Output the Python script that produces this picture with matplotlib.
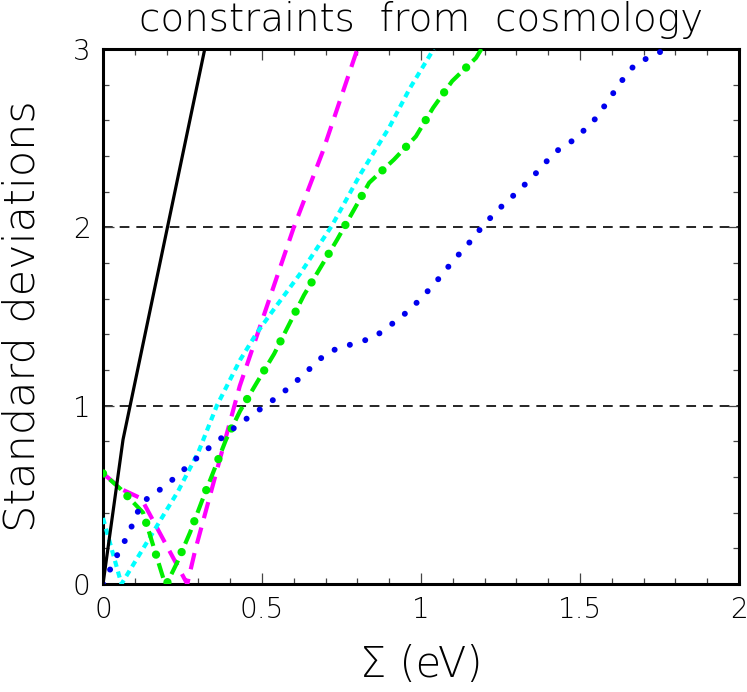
import matplotlib
matplotlib.use("Agg")
import matplotlib.pyplot as plt
from matplotlib.ticker import MultipleLocator

plt.rcParams['font.family'] = ['DejaVu Sans']
plt.rcParams['lines.scale_dashes'] = False

# ---- data ----
black_x = [0.0, 0.063, 0.32]
black_y = [0.0, 0.81, 3.0]

magenta_x = [0.0, 0.06, 0.12, 0.265, 0.29, 0.43, 0.60, 0.69, 0.80]
magenta_y = [0.62, 0.53, 0.48, 0.0, 0.19, 1.11, 2.0, 2.42, 3.0]

cyan_x = [0.0, 0.058, 0.13, 0.236, 0.30, 0.358, 0.431, 0.483, 0.536, 0.62,
          0.72, 0.81, 0.90, 0.965, 1.04]
cyan_y = [0.37, 0.0, 0.21, 0.52, 0.74, 1.0, 1.256, 1.406, 1.537, 1.74,
          2.01, 2.30, 2.56, 2.78, 3.0]

green_x = [0.0, 0.057, 0.126, 0.19, 0.20, 0.233, 0.274, 0.31, 0.387, 0.431,
           0.484, 0.538, 0.632, 0.736, 0.837, 0.915, 0.984, 1.038, 1.098, 1.173, 1.19]
green_y = [0.62, 0.53, 0.40, 0.03, 0.0, 0.12, 0.29, 0.46, 0.81, 0.97,
           1.13, 1.29, 1.62, 1.93, 2.25, 2.38, 2.51, 2.67, 2.82, 2.95, 3.0]

blue_x = [0.0, 0.044, 0.08, 0.12, 0.16, 0.19, 0.31, 0.43, 0.494, 0.557, 0.616,
          0.673, 0.70, 0.736, 0.774, 0.81, 0.85, 0.88, 0.94, 1.0, 1.05, 1.10,
          1.15, 1.20, 1.255, 1.31, 1.365, 1.42, 1.48, 1.54, 1.585, 1.626, 1.676,
          1.74, 1.767]
blue_y = [0.0, 0.16, 0.28, 0.45, 0.51, 0.54, 0.73, 0.90, 0.98, 1.06, 1.15,
          1.245, 1.29, 1.32, 1.34, 1.36, 1.38, 1.42, 1.50, 1.60, 1.70, 1.81,
          1.91, 2.02, 2.12, 2.21, 2.31, 2.42, 2.49, 2.59, 2.70, 2.81, 2.92,
          2.97, 3.0]

sigma_levels = [1, 2]
x_ticks = [0, 0.5, 1, 1.5, 2]
x_ticklabels = ['0', '0.5', '1', '1.5', '2']
y_ticks = [0, 1, 2, 3]
y_ticklabels = ['0', '1', '2', '3']

fig = plt.figure(figsize=(7.47, 6.92), dpi=100)
ax = fig.add_axes([103/747, 1-584/692, (739-103)/747, (584-49)/692])

for s in sigma_levels:
    ax.axhline(s, color='black', lw=1.2, dashes=(7, 5), zorder=1)

ax.plot(black_x, black_y, color='black', lw=2.3, solid_capstyle='butt', zorder=5)
ax.plot(magenta_x, magenta_y, color='#ff00ff', lw=3.0, dashes=(12, 7),
        dash_capstyle='butt', zorder=3)
ax.plot(cyan_x, cyan_y, color='#00ffff', lw=3.0, dashes=(4.5, 3.5),
        dash_capstyle='butt', zorder=3)
# green: long dashes with big dots in between
ax.plot(green_x, green_y, color='#00ee00', lw=3.0, dashes=(0, 6.5, 11, 6.5),
        dash_capstyle='butt', zorder=4)
ax.plot(green_x, green_y, color='#00ee00', lw=6.0, dashes=(0.05, 23.95),
        dash_capstyle='round', zorder=4)
ax.plot(blue_x, blue_y, color='#0000ee', lw=4.3, dashes=(0.05, 11.5),
        dash_capstyle='round', zorder=4)

ax.set_xlim(0, 2)
ax.set_ylim(0, 3)
ax.set_xticks(x_ticks)
ax.set_xticklabels(x_ticklabels)
ax.set_yticks(y_ticks)
ax.set_yticklabels(y_ticklabels)
ax.xaxis.set_minor_locator(MultipleLocator(0.1))
ax.yaxis.set_minor_locator(MultipleLocator(0.2))
ax.tick_params(which='both', direction='in', top=True, right=True, width=0.9,
               color='#444444')
ax.tick_params(which='major', length=8, labelsize=20, pad=9)
ax.tick_params(which='minor', length=4)
for sp in ax.spines.values():
    sp.set_linewidth(2.2)

for lab in ax.get_xticklabels() + ax.get_yticklabels():
    lab.set_fontweight('light')

ax.set_xlabel('Σ (eV)', fontsize=30, fontweight='light', labelpad=14)
ax.set_ylabel('Standard deviations', fontsize=31, fontweight='light', labelpad=22)
ax.set_title('constraints  from  cosmology', fontsize=28, fontweight='light', pad=13)

fig.savefig('out.png', dpi=100)
